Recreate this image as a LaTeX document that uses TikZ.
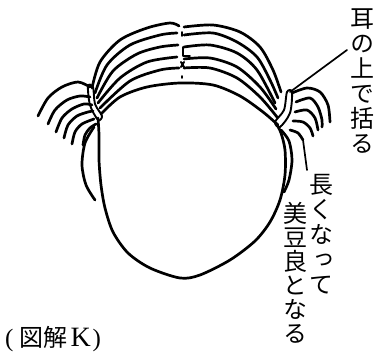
\documentclass[tikz,border=0pt]{standalone}
\usepackage{fontspec}
\newfontfamily\cjk{Noto Sans CJK JP}
\newfontfamily\cjkv[RawFeature=+vert]{Noto Sans CJK JP}
\newfontfamily\capserif{Liberation Serif}
\begin{document}
\begin{tikzpicture}[x=1pt,y=-1pt,
  ink/.style={line width=2.7pt, line cap=round, line join=round},
  fine/.style={line width=1.9pt, line cap=round, line join=round},
  leader/.style={line width=1.7pt, line cap=round},
  column/.style={font=\cjkv\fontsize{24pt}{25pt}\selectfont, align=center, inner sep=0pt, anchor=north},
  column24/.style={font=\cjkv\fontsize{24pt}{24pt}\selectfont, align=center, inner sep=0pt, anchor=north}]
\useasboundingbox (0,0) rectangle (375,352);

% hair strands, left half
\draw[ink] plot[smooth] coordinates {(92,88) (100,62) (120,40) (147,28) (170,23) (179,26)};
\draw[ink] plot[smooth] coordinates {(95,93) (107,65) (130,45) (160,35) (177,33)};
\draw[ink] plot[smooth] coordinates {(97,98) (113,71) (137,54) (160,47) (178,45)};
\draw[ink] plot[smooth] coordinates {(98,103) (120,78) (147,62) (177,57)};
\draw[ink] plot[smooth] coordinates {(100,108) (130,81) (160,70) (179,68)};
% hair strands, right half
\draw[ink] plot[smooth] coordinates {(184,27) (213,25) (240,32) (260,47) (273,70) (281,92)};
\draw[ink] plot[smooth] coordinates {(184,35) (213,33) (237,42) (257,57) (270,80) (278,98)};
\draw[ink] plot[smooth] coordinates {(184,47) (210,45) (237,53) (257,70) (275,103)};
\draw[ink] plot[smooth] coordinates {(184,59) (210,58) (237,67) (260,87) (276,109)};
\draw[ink] plot[smooth] coordinates {(184,68) (210,68) (237,78) (260,97) (277,117)};
% hairline
\draw[ink] plot[smooth] coordinates {(101,114) (120,97) (147,87) (180,83) (213,85) (240,96) (263,112) (278,125)};
% parting marks
\draw[fine] (182,32) -- (182,36);
\draw[fine] (183,47) -- (183,56) -- (190,56);
\draw[fine] (181,62) -- (184,67) (184,62) -- (181,67);
\draw[fine] (182,76) -- (182,78);

% tied bands above the ears
\draw[fine] plot[smooth cycle] coordinates {(88,86) (90,105) (98,120) (102,116) (95,104) (93,87)};
\draw[fine] plot[smooth cycle] coordinates {(292,92) (290,113) (280,127) (275,122) (284,110) (287,92)};

% left tuft
\draw[ink] plot[smooth] coordinates {(38,116) (48,98) (62,87) (78,82) (90,87)};
\draw[ink] plot[smooth] coordinates {(48,124) (55,110) (67,100) (80,96) (90,97)};
\draw[ink] plot[smooth] coordinates {(56,132) (62,118) (72,109) (84,104) (92,105)};
\draw[ink] plot[smooth] coordinates {(64,138) (68,125) (77,116) (88,112) (93,111)};
\draw[ink] plot[smooth] coordinates {(72,144) (75,132) (82,124) (94,119)};
\draw[ink] plot[smooth] coordinates {(83,145) (85,135) (90,128) (96,124)};

% right tuft
\draw[ink] plot[smooth] coordinates {(292,93) (307,88) (320,92) (328,105) (330,122)};
\draw[ink] plot[smooth] coordinates {(296,102) (310,98) (318,107) (322,120) (322,127)};
\draw[ink] plot[smooth] coordinates {(295,112) (307,110) (315,118) (318,130)};
\draw[ink] plot[smooth] coordinates {(293,121) (303,122) (310,128) (313,136)};
\draw[ink] plot[smooth] coordinates {(290,130) (298,133) (303,140)};

% face
\draw[ink] plot[smooth] coordinates {(98,118) (99,135) (99,160) (101,185) (105,208) (113,232) (128,253) (150,268) (180,278) (200,275) (230,260) (255,241) (270,222) (280,200) (285,175) (285,150) (281,133) (277,125)};
% side locks
\draw[ink] plot[smooth] coordinates {(94,127) (85,143) (82,165) (86,185) (95,200)};
\draw[ink] plot[smooth] coordinates {(281,130) (289,141) (292,160) (289,180) (284,192)};

% labels
\node[column] (tie) at (362,9) {耳\\の\\上\\で\\括\\る};
\node[column] (long) at (321,174) {長\\く\\な\\っ\\て};
\node[column24] (mizura) at (295,202) {美\\豆\\良\\と\\な\\る};
\node[anchor=base west, inner sep=0pt] (caption) at (5,347)
  {\capserif\fontsize{25pt}{25pt}\selectfont(\kern6pt{\cjk\fontsize{24pt}{24pt}\selectfont 図解}\kern3pt{\fontsize{28pt}{28pt}\selectfont K}\kern2pt)};

% leaders
\coordinate (bandR) at (290,92);
\coordinate (tieEnd) at (347,50);
\coordinate (tuftE) at (303,140);
\coordinate (longEnd) at (307,170);
\draw[leader] (bandR) -- (tieEnd);
\draw[leader] (tuftE) -- (longEnd);
\end{tikzpicture}
\end{document}
